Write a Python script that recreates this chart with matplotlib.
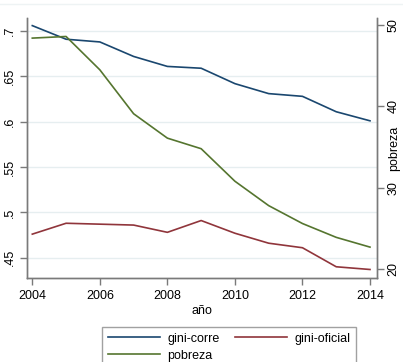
import matplotlib
matplotlib.use('Agg')
import matplotlib.pyplot as plt
from matplotlib.lines import Line2D

plt.rcParams['font.family'] = ['Liberation Sans', 'DejaVu Sans']

anio = [2004, 2005, 2006, 2007, 2008, 2009, 2010, 2011, 2012, 2013, 2014]
gini_corre = [0.706, 0.691, 0.688, 0.672, 0.661, 0.659, 0.642, 0.631, 0.628, 0.611, 0.601]
gini_oficial = [0.476, 0.488, 0.487, 0.486, 0.478, 0.491, 0.477, 0.466, 0.461, 0.440, 0.437]
pobreza = [48.4, 48.6, 44.5, 39.1, 36.1, 34.8, 30.8, 27.8, 25.6, 23.9, 22.7]

left_ticks = [0.45, 0.5, 0.55, 0.6, 0.65, 0.7]
left_labels = ['.45', '.5', '.55', '.6', '.65', '.7']
right_ticks = [20, 30, 40, 50]
x_ticks = [2004, 2006, 2008, 2010, 2012, 2014]

c_navy = '#1a476f'
c_maroon = '#90353b'
c_green = '#55752f'
c_axis = '#7a7a7a'

fig = plt.figure(figsize=(4.03, 3.62), dpi=100)
ax = fig.add_axes([0.067, 0.232, 0.8677, 0.718])
ax2 = ax.twinx()

l1, = ax.plot(anio, gini_corre, color=c_navy, lw=1.2, label='gini-corre')
l2, = ax.plot(anio, gini_oficial, color=c_maroon, lw=1.2, label='gini-oficial')
l3, = ax2.plot(anio, pobreza, color=c_green, lw=1.2, label='pobreza')

ax.set_xlim(2003.843, 2014.198)
ax.set_ylim(0.4276, 0.7143)
ax2.set_ylim(18.9, 50.86)

ax.set_yticks(left_ticks)
ax.set_yticklabels(left_labels)
ax2.set_yticks(right_ticks)
ax.set_xticks(x_ticks)

for a in (ax, ax2):
    a.spines['top'].set_visible(False)
    for s in ('left', 'right', 'bottom'):
        a.spines[s].set_color(c_axis)
        a.spines[s].set_linewidth(1.0)
    a.tick_params(colors=c_axis, labelcolor='black', labelsize=9, length=5, width=1.0)

ax.tick_params(axis='y', labelrotation=90, pad=3)
ax2.tick_params(axis='y', labelrotation=90, pad=3)
for t in ax.get_yticklabels() + ax2.get_yticklabels():
    t.set_va('center')

ax.yaxis.grid(True, color='#e6eef0', lw=1.0)
ax.set_axisbelow(True)

ax.set_xlabel('año', fontsize=9, labelpad=2)
ax2.set_ylabel('pobreza', fontsize=9, rotation=90)
ax2.yaxis.label.set_va('center')
ax2.yaxis.label.set_ha('center')
ax2.yaxis.set_label_coords(1.051, 0.5)

fig.add_artist(Line2D([0, 1], [0.989, 0.989], color='#eef3f4', lw=1.0))

leg = fig.legend([l1, l3, l2], ['gini-corre', 'pobreza', 'gini-oficial'],
                 ncol=2, loc='upper left', bbox_to_anchor=(0.2375, 0.114),
                 fontsize=9, frameon=True, fancybox=False, handlelength=4.2,
                 handletextpad=0.6, columnspacing=1.2, labelspacing=0.4,
                 borderpad=0.45)
leg.get_frame().set_edgecolor('#8a8a8a')
leg.get_frame().set_linewidth(1.0)

fig.savefig('out.png', dpi=100)
